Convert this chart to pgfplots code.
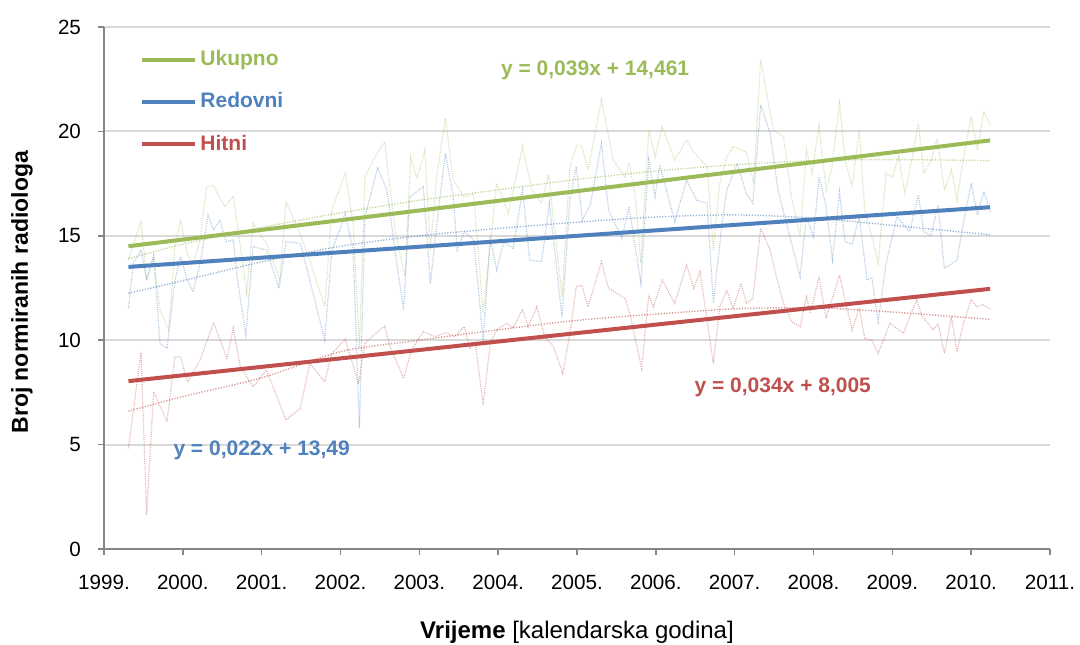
\documentclass[border=0pt]{standalone}
\usepackage{fontspec}
\setmainfont{Liberation Sans}
\usepackage{pgfplots}
\pgfplotsset{compat=1.18}
\usetikzlibrary{calc}
\definecolor{cgreen}{HTML}{9BBB59}
\definecolor{cblue}{HTML}{4F81BD}
\definecolor{cred}{HTML}{C0504D}
\definecolor{cgrid}{HTML}{D9D9D9}
\definecolor{caxis}{HTML}{868686}
\begin{document}
\begin{tikzpicture}
\begin{axis}[name=ax, scale only axis, width=473pt, height=261pt,
  xmin=1999, xmax=2011, ymin=0, ymax=25,
  xtick={1999,2000,...,2011},
  xticklabels={1999.,2000.,2001.,2002.,2003.,2004.,2005.,2006.,2007.,2008.,2009.,2010.,2011.},
  ytick={0,5,...,25},
  axis lines*=left,
  ymajorgrids, grid style={cgrid, line width=1pt},
  axis line style={caxis, line width=0.8pt},
  tick style={caxis, line width=0.8pt}, major tick length=3pt, tick align=outside,
  /pgf/number format/assume math mode=true,
  tick label style={font=\fontsize{10.3}{12}\selectfont},
  xticklabel style={yshift=-6.5pt},
  yticklabel style={xshift=-5pt},
  xlabel={\textbf{Vrijeme} [kalendarska godina]},
  ylabel={\textbf{Broj normiranih radiologa}},
  xlabel style={font=\fontsize{12}{14}\selectfont, at={(axis description cs:0.5,-0.159)}, anchor=center},
  ylabel style={font=\fontsize{11.5}{13}\selectfont, at={(axis description cs:-0.0867,0.492)}, anchor=center, rotate=0},
  legend style={draw=none, fill=none, at={(axis cs:1999.457,24.04)}, anchor=north west,
    row sep=9pt, inner sep=0pt, font=\bfseries\fontsize{10.5}{12}\selectfont,
    nodes={inner sep=1.5pt}},
  legend cell align=left,
  legend image code/.code={\draw[#1] (0pt,0pt) -- (26.5pt,0pt);},
  clip=false,
]
% ---- data series (thin dotted) ----
\addplot[cgreen, line width=0.6pt, opacity=0.45, dash pattern=on 0.5pt off 0.6pt, forget plot] coordinates {
(1999.31,13.84)(1999.47,15.72)(1999.54,12.88)(1999.63,14.00)(1999.71,11.45)(1999.82,10.49)(1999.90,14.48)(1999.97,15.76)
(2000.06,14.08)(2000.13,13.70)(2000.22,14.80)(2000.30,17.35)(2000.39,17.40)(2000.53,16.39)(2000.64,16.90)(2000.73,14.48)
(2000.81,12.25)(2000.89,15.60)(2001.06,14.64)(2001.23,12.88)(2001.31,16.63)(2001.49,15.04)(2001.61,13.84)(2001.80,11.60)
(2001.89,16.24)(2002.06,18.02)(2002.16,15.60)(2002.24,9.60)(2002.31,17.83)(2002.44,18.79)(2002.56,19.51)(2002.69,15.28)
(2002.82,13.04)(2002.89,18.79)(2002.97,17.75)(2003.07,19.11)(2003.14,14.32)(2003.22,17.83)(2003.33,20.63)(2003.43,17.67)
(2003.56,16.87)(2003.69,17.00)(2003.81,11.29)(2003.98,17.51)(2004.13,16.08)(2004.31,19.27)(2004.43,17.19)(2004.55,16.56)
(2004.64,17.91)(2004.81,12.08)(2004.91,18.31)(2005.00,19.35)(2005.06,19.30)(2005.14,18.15)(2005.31,21.50)(2005.46,18.63)
(2005.61,17.83)(2005.66,18.50)(2005.74,16.87)(2005.81,13.68)(2005.91,20.07)(2005.99,18.79)(2006.08,20.22)(2006.24,18.63)
(2006.39,19.59)(2006.48,19.00)(2006.65,18.31)(2006.73,14.32)(2006.81,17.50)(2006.90,18.79)(2006.98,19.27)(2007.15,19.00)
(2007.24,17.51)(2007.33,23.42)(2007.49,20.07)(2007.62,19.75)(2007.72,16.87)(2007.83,14.96)(2007.91,19.11)(2007.98,17.99)
(2008.07,20.26)(2008.16,17.19)(2008.23,18.20)(2008.33,21.34)(2008.40,18.63)(2008.49,17.35)(2008.58,20.07)(2008.65,16.24)
(2008.74,14.96)(2008.82,13.68)(2008.92,17.99)(2009.00,17.80)(2009.08,18.79)(2009.16,17.04)(2009.24,18.50)(2009.33,20.39)
(2009.40,17.99)(2009.49,18.60)(2009.57,19.67)(2009.66,17.19)(2009.75,18.15)(2009.82,16.71)(2009.90,18.70)(2010.00,20.70)
(2010.08,19.11)(2010.16,20.94)(2010.24,20.31)};
\addplot[cblue, line width=0.6pt, opacity=0.45, dash pattern=on 0.5pt off 0.6pt, forget plot] coordinates {
(1999.31,11.53)(1999.37,13.68)(1999.47,14.32)(1999.54,12.88)(1999.63,14.08)(1999.71,9.85)(1999.80,9.61)(1999.90,12.88)
(1999.97,14.00)(2000.06,12.88)(2000.13,12.32)(2000.22,13.68)(2000.32,16.00)(2000.39,15.28)(2000.47,15.76)(2000.55,14.72)
(2000.64,14.80)(2000.70,12.72)(2000.80,10.25)(2000.89,14.48)(2001.06,14.32)(2001.22,12.49)(2001.31,14.72)(2001.49,14.64)
(2001.61,12.88)(2001.80,10.01)(2001.89,14.30)(2001.99,15.28)(2002.06,16.10)(2002.16,14.32)(2002.24,5.78)(2002.31,15.92)
(2002.47,18.23)(2002.59,17.19)(2002.69,14.32)(2002.80,11.45)(2002.88,16.87)(2003.05,17.35)(2003.14,12.72)(2003.22,15.50)
(2003.33,18.95)(2003.43,16.87)(2003.48,14.32)(2003.57,15.20)(2003.69,14.80)(2003.81,10.01)(2003.90,14.96)(2003.98,13.36)
(2004.07,14.70)(2004.19,14.40)(2004.31,17.19)(2004.40,13.84)(2004.55,13.76)(2004.65,16.56)(2004.81,11.13)(2004.91,16.71)
(2004.99,18.31)(2005.07,15.76)(2005.17,16.50)(2005.31,19.43)(2005.40,16.24)(2005.57,14.88)(2005.66,16.39)(2005.81,12.72)
(2005.91,18.63)(2005.99,16.87)(2006.05,18.39)(2006.24,15.68)(2006.39,17.67)(2006.52,16.70)(2006.65,16.56)(2006.73,11.77)
(2006.84,15.60)(2006.90,17.19)(2007.03,18.47)(2007.15,17.00)(2007.23,16.56)(2007.33,21.26)(2007.45,19.91)(2007.55,17.19)
(2007.70,14.96)(2007.83,13.04)(2007.91,15.92)(2008.00,14.96)(2008.07,17.83)(2008.16,16.39)(2008.24,13.84)(2008.33,17.11)
(2008.40,14.72)(2008.49,14.60)(2008.58,15.92)(2008.68,12.88)(2008.74,13.00)(2008.82,10.89)(2008.92,13.68)(2009.06,15.92)
(2009.22,15.20)(2009.33,16.95)(2009.40,15.20)(2009.49,15.00)(2009.58,16.48)(2009.66,13.44)(2009.82,13.84)(2009.90,15.60)
(2010.00,17.51)(2010.08,16.00)(2010.16,17.11)(2010.25,16.08)};
\addplot[cred, line width=0.6pt, opacity=0.45, dash pattern=on 0.5pt off 0.6pt, forget plot] coordinates {
(1999.31,4.82)(1999.47,9.45)(1999.54,1.63)(1999.63,7.53)(1999.80,6.10)(1999.90,9.21)(1999.97,9.20)(2000.06,8.01)
(2000.22,9.05)(2000.39,10.84)(2000.56,9.13)(2000.64,10.57)(2000.73,8.73)(2000.89,7.77)(2001.06,8.57)(2001.31,6.18)
(2001.49,6.74)(2001.61,8.89)(2001.80,8.01)(2001.89,9.37)(2002.06,10.04)(2002.23,7.93)(2002.31,9.85)(2002.40,10.17)
(2002.56,10.68)(2002.63,9.69)(2002.80,8.17)(2002.90,9.53)(2003.05,10.41)(2003.20,10.17)(2003.33,10.36)(2003.45,10.17)
(2003.57,10.65)(2003.64,9.61)(2003.71,9.85)(2003.81,6.90)(2003.90,9.85)(2003.98,10.49)(2004.11,10.81)(2004.19,10.60)
(2004.31,11.48)(2004.38,10.65)(2004.49,11.60)(2004.59,10.17)(2004.70,9.69)(2004.82,8.41)(2004.91,10.33)(2004.99,12.56)
(2005.06,12.64)(2005.14,11.60)(2005.31,13.76)(2005.40,12.49)(2005.61,12.00)(2005.67,11.29)(2005.82,8.65)(2005.91,12.16)
(2005.97,11.60)(2006.08,12.88)(2006.24,11.77)(2006.39,13.60)(2006.48,12.49)(2006.56,13.28)(2006.73,8.89)(2006.81,11.60)
(2006.90,12.40)(2006.98,11.50)(2007.08,12.72)(2007.15,11.77)(2007.23,12.00)(2007.33,15.36)(2007.45,14.32)(2007.55,12.72)
(2007.62,11.77)(2007.72,10.89)(2007.83,10.65)(2007.91,12.08)(2007.96,11.29)(2008.07,13.04)(2008.16,11.05)(2008.33,13.12)
(2008.40,11.93)(2008.49,10.49)(2008.58,11.53)(2008.65,10.09)(2008.74,10.00)(2008.82,9.37)(2008.97,10.81)(2009.14,10.33)
(2009.31,11.93)(2009.37,11.20)(2009.52,10.49)(2009.58,10.80)(2009.66,9.37)(2009.75,11.13)(2009.82,9.45)(2009.90,10.80)
(2010.00,11.93)(2010.07,11.60)(2010.15,11.70)(2010.25,11.48)};
% ---- polynomial trend lines (thin dotted) ----
\addplot[cgreen, line width=0.7pt, opacity=0.6, dash pattern=on 0.6pt off 0.8pt, smooth, forget plot] coordinates {
(1999.31,13.9)(2000,14.6)(2001,15.4)(2002,16.1)(2003,16.7)(2004,17.2)(2005,17.7)(2006,18.1)(2007,18.4)(2008,18.6)(2009,18.65)(2010.24,18.6)};
\addplot[cblue, line width=0.7pt, opacity=0.6, dash pattern=on 0.6pt off 0.8pt, smooth, forget plot] coordinates {
(1999.31,12.25)(2000,12.85)(2001,13.75)(2002,14.5)(2003,15.0)(2004,15.35)(2005,15.65)(2006,15.9)(2007,16.0)(2008,15.85)(2009,15.5)(2010.24,15.05)};
\addplot[cred, line width=0.7pt, opacity=0.6, dash pattern=on 0.6pt off 0.8pt, smooth, forget plot] coordinates {
(1999.31,6.6)(2000,7.3)(2001,8.2)(2002,9.45)(2003,10.0)(2004,10.5)(2005,10.95)(2006,11.25)(2007,11.5)(2008,11.55)(2009,11.35)(2010.24,11.0)};
% ---- linear trend lines ----
\addplot[cgreen, line width=2pt] coordinates {(1999.31,14.50)(2010.24,19.57)};
\addlegendentry{\textcolor{cgreen}{Ukupno}}
\addplot[cblue, line width=2pt] coordinates {(1999.31,13.51)(2010.24,16.37)};
\addlegendentry{\textcolor{cblue}{Redovni}}
\addplot[cred, line width=2pt] coordinates {(1999.31,8.04)(2010.24,12.46)};
\addlegendentry{\textcolor{cred}{Hitni}}
% ---- equations ----
\node[font=\bfseries\fontsize{10.5}{12}\selectfont, text=cgreen] at (axis cs:2005.23,22.94) {y = 0,039x + 14,461};
\node[font=\bfseries\fontsize{10.5}{12}\selectfont, text=cblue] at (axis cs:2001.0,4.74) {y = 0,022x + 13,49};
\node[font=\bfseries\fontsize{10.5}{12}\selectfont, text=cred] at (axis cs:2007.61,7.76) {y = 0,034x + 8,005};
\end{axis}
\pgfresetboundingbox
\path[use as bounding box] ($(ax.south west)+(-52pt,-47.5pt)$) rectangle ($(ax.south west)+(488pt,274.5pt)$);
\end{tikzpicture}
\end{document}
